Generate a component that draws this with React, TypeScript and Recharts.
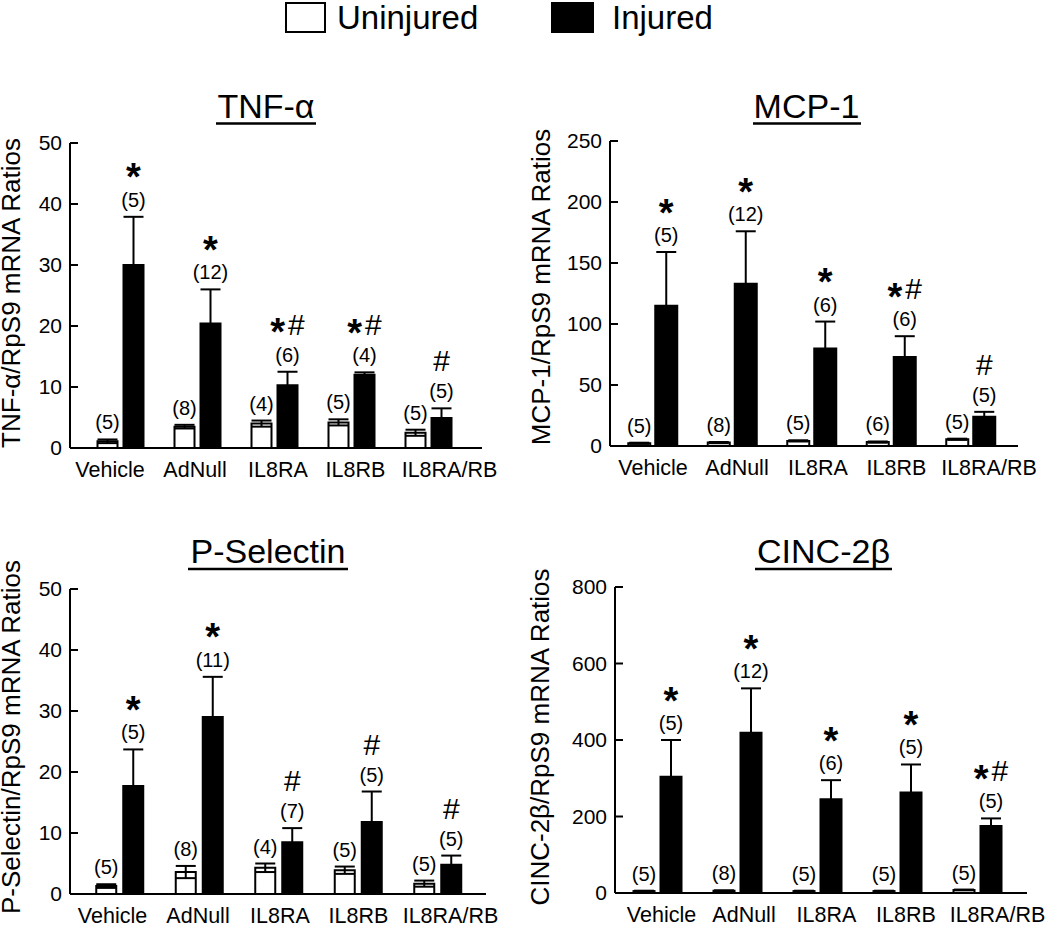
import React from 'react';
import { BarChart, Bar, XAxis, YAxis, ErrorBar, LabelList } from 'recharts';

const FONT = 'Arial, "Liberation Sans", Helvetica, sans-serif';

const categories = ['Vehicle', 'AdNull', 'IL8RA', 'IL8RB', 'IL8RA/RB'];

// TNF-α
const tnfUninjured = [1.1, 3.5, 4.0, 4.2, 2.5];
const tnfUninjuredErr = [0.3, 0.3, 0.5, 0.5, 0.5];
const tnfInjured = [30.0, 20.4, 10.3, 12.0, 4.9];
const tnfInjuredErr = [7.9, 5.6, 2.2, 0.4, 1.6];
const tnfUninjuredN = ['(5)', '(8)', '(4)', '(5)', '(5)'];
const tnfInjuredN = ['(5)', '(12)', '(6)', '(4)', '(5)'];
const tnfSig = ['*', '*', '*#', '*#', '#'];
const tnfTicks = [0, 10, 20, 30, 40, 50];

// MCP-1
const mcpUninjured = [2.2, 2.8, 4.2, 3.2, 5.5];
const mcpUninjuredErr = [0.5, 0.5, 0.5, 0.5, 0.5];
const mcpInjured = [115, 133, 80, 73, 24];
const mcpInjuredErr = [44, 43, 22, 17, 4];
const mcpUninjuredN = ['(5)', '(8)', '(5)', '(6)', '(5)'];
const mcpInjuredN = ['(5)', '(12)', '(6)', '(6)', '(5)'];
const mcpSig = ['*', '*', '*', '*#', '#'];
const mcpTicks = [0, 50, 100, 150, 200, 250];

// P-Selectin
const pselUninjured = [1.3, 3.6, 4.3, 3.9, 1.7];
const pselUninjuredErr = [0.3, 1.0, 0.7, 0.6, 0.5];
const pselInjured = [17.7, 29.0, 8.5, 11.8, 4.8];
const pselInjuredErr = [6.0, 6.6, 2.3, 5.0, 1.5];
const pselUninjuredN = ['(5)', '(8)', '(4)', '(5)', '(5)'];
const pselInjuredN = ['(5)', '(11)', '(7)', '(5)', '(5)'];
const pselSig = ['*', '*', '#', '#', '#'];
const pselTicks = [0, 10, 20, 30, 40, 50];

// CINC-2β
const cincUninjured = [5, 6, 5, 5, 8];
const cincUninjuredErr = [1, 1, 1, 1, 1];
const cincInjured = [304, 419, 245, 263, 175];
const cincInjuredErr = [96, 116, 50, 73, 20];
const cincUninjuredN = ['(5)', '(8)', '(5)', '(5)', '(5)'];
const cincInjuredN = ['(5)', '(12)', '(6)', '(5)', '(5)'];
const cincSig = ['*', '*', '*', '*', '*#'];
const cincTicks = [0, 200, 400, 600, 800];

type Row = {
  cat: string;
  u: number;
  ue: number;
  inj: number;
  ie: number;
  un: string;
  inn: string;
  sig: string;
  idx: number;
};

function buildRows(
  u: number[], ue: number[], inj: number[], ie: number[],
  un: string[], inn: string[], sig: string[]
): Row[] {
  return categories.map((cat, i) => ({
    cat, u: u[i], ue: ue[i], inj: inj[i], ie: ie[i], un: un[i], inn: inn[i], sig: sig[i], idx: i,
  }));
}

type Layout = {
  frame: { left: number; top: number; width: number; height: number };
  plot: { x0: number; x1: number; yTop: number; yBottom: number };
  padL: number;
  padR: number;
  barSize: number;
  barGap: number;
  tickOffsets: number[];
  title: string;
  titleX: number;
  titleY: number;
  underline: [number, number];
  yLabel: string;
  yLabelX: number;
  yLabelY: number;
};

const panels: { layout: Layout; rows: Row[]; ticks: number[] }[] = [
  {
    layout: {
      frame: { left: 0, top: 70, width: 525, height: 430 },
      plot: { x0: 70, x1: 482, yTop: 143, yBottom: 448 },
      padL: 11.5, padR: 15.5, barSize: 20, barGap: 6,
      tickOffsets: [-10, -2, 4, 4.5, 21.5],
      title: 'TNF-α', titleX: 266, titleY: 117.5, underline: [216, 316],
      yLabel: 'TNF-α/RpS9 mRNA Ratios', yLabelX: 20, yLabelY: 293,
    },
    rows: buildRows(tnfUninjured, tnfUninjuredErr, tnfInjured, tnfInjuredErr, tnfUninjuredN, tnfInjuredN, tnfSig),
    ticks: tnfTicks,
  },
  {
    layout: {
      frame: { left: 525, top: 70, width: 525, height: 430 },
      plot: { x0: 610, x1: 1018, yTop: 141, yBottom: 446 },
      padL: 3.25, padR: 7.25, barSize: 22, barGap: 5,
      tickOffsets: [0, 4.5, 6, 5, 18],
      title: 'MCP-1', titleX: 806.5, titleY: 117.5, underline: [753, 861],
      yLabel: 'MCP-1/RpS9 mRNA Ratios', yLabelX: 550, yLabelY: 287,
    },
    rows: buildRows(mcpUninjured, mcpUninjuredErr, mcpInjured, mcpInjuredErr, mcpUninjuredN, mcpInjuredN, mcpSig),
    ticks: mcpTicks,
  },
  {
    layout: {
      frame: { left: 0, top: 510, width: 525, height: 416 },
      plot: { x0: 70, x1: 486, yTop: 589, yBottom: 894 },
      padL: 10.25, padR: 8.25, barSize: 20, barGap: 7,
      tickOffsets: [-7.5, -1.5, 1, 0, 12.5],
      title: 'P-Selectin', titleX: 268, titleY: 563, underline: [188, 348],
      yLabel: 'P-Selectin/RpS9 mRNA Ratios', yLabelX: 20, yLabelY: 737,
    },
    rows: buildRows(pselUninjured, pselUninjuredErr, pselInjured, pselInjuredErr, pselUninjuredN, pselInjuredN, pselSig),
    ticks: pselTicks,
  },
  {
    layout: {
      frame: { left: 525, top: 510, width: 525, height: 416 },
      plot: { x0: 615, x1: 1027, yTop: 587, yBottom: 893 },
      padL: 2.5, padR: 9.5, barSize: 21, barGap: 6,
      tickOffsets: [4, 6.5, 9, 8.5, 20],
      title: 'CINC-2β', titleX: 823.5, titleY: 563, underline: [755, 892],
      yLabel: 'CINC-2β/RpS9 mRNA Ratios', yLabelX: 549, yLabelY: 737,
    },
    rows: buildRows(cincUninjured, cincUninjuredErr, cincInjured, cincInjuredErr, cincUninjuredN, cincInjuredN, cincSig),
    ticks: cincTicks,
  },
];

const XTick = (props: any) => {
  const { x, y, payload, offsets } = props;
  const i = payload?.index ?? props.index ?? 0;
  return (
    <text x={x + (offsets?.[i] ?? 0)} y={y + 29} textAnchor="middle" fontSize={21.5} fill="#000" fontFamily={FONT}>
      {payload?.value}
    </text>
  );
};

const YTick = (props: any) => {
  const { x, y, payload } = props;
  return (
    <g>
      <line x1={x + 8} x2={x + 16} y1={y} y2={y} stroke="#000" strokeWidth={2} />
      <text x={x} y={y + 7} textAnchor="end" fontSize={21} fill="#000" fontFamily={FONT}>
        {payload?.value}
      </text>
    </g>
  );
};

function makeAnno(rows: Row[], which: 'u' | 'inj', pxPerUnit: number) {
  return (props: any) => {
    const vb = props.viewBox ?? props;
    const x = Number(vb.x ?? props.x);
    const y = Number(vb.y ?? props.y);
    const w = Number(vb.width ?? props.width);
    const h = Number(vb.height ?? props.height);
    const idx = typeof props.index === 'number' ? props.index : Number(props.value);
    const row = rows[idx];
    if (!row || !isFinite(x) || !isFinite(y)) return null;
    const top = Math.min(y, y + h);
    const cx = x + w / 2;
    const err = which === 'u' ? row.ue : row.ie;
    const nText = which === 'u' ? row.un : row.inn;
    const sig = which === 'inj' ? row.sig : '';
    const nBase = top - err * pxPerUnit - 10;
    const chars = sig.split('');
    let cur = 0;
    const spans = chars.map((c, k) => {
      const target = c === '*' ? -16.5 : -27;
      const dy = target - cur;
      cur = target;
      if (c === '*') {
        return (
          <tspan key={k} dy={dy} fontSize={38} fontWeight="bold">*</tspan>
        );
      }
      return (
        <tspan key={k} dy={dy} dx={k > 0 ? 3 : 0} fontSize={30}>#</tspan>
      );
    });
    return (
      <g>
        <text x={cx} y={nBase} textAnchor="middle" fontSize={20} fill="#000" fontFamily={FONT}>
          {nText}
        </text>
        {chars.length > 0 && (
          <text x={cx} y={nBase} textAnchor="middle" fill="#000" fontFamily={FONT}>
            {spans}
          </text>
        )}
      </g>
    );
  };
}

const Y_AXIS_W = 60;
const X_AXIS_H = 30;

function Panel({ layout, rows, ticks }: { layout: Layout; rows: Row[]; ticks: number[] }) {
  const { frame, plot } = layout;
  const yMax = ticks[ticks.length - 1];
  const margin = {
    left: plot.x0 - frame.left - Y_AXIS_W,
    right: frame.left + frame.width - plot.x1,
    top: plot.yTop - frame.top,
    bottom: frame.top + frame.height - plot.yBottom - X_AXIS_H,
  };
  const pxPerUnit = (plot.yBottom - plot.yTop) / yMax;
  return (
    <div style={{ position: 'absolute', left: frame.left, top: frame.top }}>
      <BarChart
        width={frame.width}
        height={frame.height}
        data={rows}
        margin={margin}
        barGap={layout.barGap}
        barSize={layout.barSize}
      >
        <XAxis
          dataKey="cat"
          interval={0}
          height={X_AXIS_H}
          padding={{ left: layout.padL, right: layout.padR }}
          axisLine={{ stroke: '#000', strokeWidth: 2 }}
          tickLine={false}
          tickSize={0}
          tickMargin={0}
          tick={<XTick offsets={layout.tickOffsets} />}
        />
        <YAxis
          type="number"
          domain={[0, yMax]}
          ticks={ticks}
          interval={0}
          width={Y_AXIS_W}
          axisLine={{ stroke: '#000', strokeWidth: 2 }}
          tickLine={false}
          tickSize={0}
          tickMargin={8}
          tick={<YTick />}
        />
        <Bar dataKey="u" fill="#fff" stroke="#000" strokeWidth={2} isAnimationActive={false}>
          <ErrorBar dataKey="ue" direction="y" width={10} stroke="#000" strokeWidth={2} />
          <LabelList dataKey="idx" content={makeAnno(rows, 'u', pxPerUnit)} />
        </Bar>
        <Bar dataKey="inj" fill="#000" stroke="#000" strokeWidth={2} isAnimationActive={false}>
          <ErrorBar dataKey="ie" direction="y" width={10} stroke="#000" strokeWidth={2} />
          <LabelList dataKey="idx" content={makeAnno(rows, 'inj', pxPerUnit)} />
        </Bar>
      </BarChart>
    </div>
  );
}

export default function App() {
  return (
    <div
      style={{
        position: 'absolute',
        left: 0,
        top: 0,
        width: 1050,
        height: 926,
        background: '#fff',
        fontFamily: FONT,
        overflow: 'hidden',
      }}
    >
      <svg width={1050} height={926} style={{ position: 'absolute', left: 0, top: 0 }}>
        {/* legend */}
        <rect x={286} y={3} width={39} height={29} fill="#fff" stroke="#000" strokeWidth={2} />
        <text x={337} y={29} fontSize={33} fill="#000" fontFamily={FONT}>Uninjured</text>
        <rect x={551} y={2} width={43} height={31} fill="#000" />
        <text x={612} y={29} fontSize={33} fill="#000" fontFamily={FONT}>Injured</text>
        {panels.map((p, i) => (
          <g key={i}>
            <text
              x={p.layout.titleX}
              y={p.layout.titleY}
              textAnchor="middle"
              fontSize={34}
              fill="#000"
              fontFamily={FONT}
            >
              {p.layout.title}
            </text>
            <line
              x1={p.layout.underline[0]}
              x2={p.layout.underline[1]}
              y1={p.layout.titleY + 6}
              y2={p.layout.titleY + 6}
              stroke="#000"
              strokeWidth={2.5}
            />
            <text
              x={p.layout.yLabelX}
              y={p.layout.yLabelY}
              transform={`rotate(-90, ${p.layout.yLabelX}, ${p.layout.yLabelY})`}
              textAnchor="middle"
              fontSize={26}
              fill="#000"
              fontFamily={FONT}
            >
              {p.layout.yLabel}
            </text>
          </g>
        ))}
      </svg>
      {panels.map((p, i) => (
        <Panel key={i} layout={p.layout} rows={p.rows} ticks={p.ticks} />
      ))}
    </div>
  );
}
